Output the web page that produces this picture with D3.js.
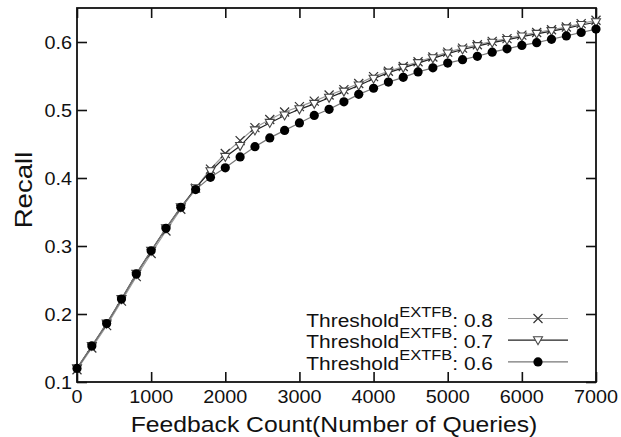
<!DOCTYPE html>
<html>
<head>
<meta charset="utf-8">
<script src="https://cdn.jsdelivr.net/npm/d3@7"></script>
<style>
  body { margin: 0; background: #fff; }
  svg { display: block; font-family: "Liberation Sans", Arial, sans-serif; }
</style>
</head>
<body>
<svg id="chart"></svg>
<script>
// feedback count, every 200 queries
const feedback = d3.range(0, 7001, 200)

// recall per threshold
const recall08 = [0.118, 0.150, 0.183, 0.219, 0.255, 0.289, 0.322, 0.354, 0.385, 0.413,
  0.436, 0.455, 0.474, 0.486, 0.497, 0.505, 0.513, 0.522, 0.530, 0.539,
  0.549, 0.557, 0.564, 0.571, 0.578, 0.585, 0.591, 0.596, 0.601, 0.605,
  0.610, 0.614, 0.618, 0.622, 0.627, 0.632]
const recall07 = [0.120, 0.153, 0.186, 0.222, 0.259, 0.293, 0.326, 0.357, 0.385, 0.410,
  0.431, 0.447, 0.470, 0.481, 0.492, 0.501, 0.509, 0.518, 0.527, 0.536,
  0.546, 0.555, 0.562, 0.569, 0.576, 0.583, 0.589, 0.594, 0.599, 0.603,
  0.608, 0.612, 0.616, 0.620, 0.625, 0.629]
const recall06 = [0.120, 0.153, 0.186, 0.222, 0.259, 0.293, 0.326, 0.357, 0.383, 0.401,
  0.415, 0.431, 0.446, 0.459, 0.470, 0.481, 0.492, 0.501, 0.512, 0.523,
  0.532, 0.541, 0.548, 0.556, 0.562, 0.569, 0.574, 0.579, 0.585, 0.590,
  0.595, 0.599, 0.604, 0.609, 0.614, 0.619]

const xTicks = [0, 1000, 2000, 3000, 4000, 5000, 6000, 7000]
const yTicks = [0.1, 0.2, 0.3, 0.4, 0.5, 0.6]
const legendValues = ["0.8", "0.7", "0.6"]

const W = 621, H = 437
// plot box edges (window.top is taken so use other names)
const plotL = 77, plotR = 596, plotT = 8, plotB = 382

const svg = d3.select('#chart')
    .attr('width', W)
    .attr('height', H)

const x = d3.scaleLinear().domain([0, 7000]).range([plotL, plotR])
const y = d3.scaleLinear().domain([0.1, 0.65]).range([plotB, plotT])

// the original font looks a bit wider than arial, so stretch text a little
function stretched(parent, px, py, sx, txt, size, anchor, rot) {
    return parent.append('text')
        .attr('transform', `translate(${px},${py})` + (rot ? ` rotate(${rot})` : '') + ` scale(${sx},1)`)
        .attr('font-size', size)
        .attr('text-anchor', anchor)
        .attr('fill', '#111')
        .text(txt)
}

// inward ticks on all four sides
const tickLen = 10
svg.append('g')
    .attr('transform', `translate(0,${plotB})`)
    .call(d3.axisBottom(x).tickValues(xTicks).tickSize(-tickLen).tickFormat(''))
svg.append('g')
    .attr('transform', `translate(0,${plotT})`)
    .call(d3.axisTop(x).tickValues(xTicks).tickSize(-tickLen).tickFormat(''))
svg.append('g')
    .attr('transform', `translate(${plotL},0)`)
    .call(d3.axisLeft(y).tickValues(yTicks).tickSize(-tickLen).tickFormat(''))
svg.append('g')
    .attr('transform', `translate(${plotR},0)`)
    .call(d3.axisRight(y).tickValues(yTicks).tickSize(-tickLen).tickFormat(''))

svg.selectAll('.domain').remove()
svg.selectAll('.tick line').attr('stroke', '#111').attr('stroke-width', 1.6)

// frame
svg.append('rect')
    .attr('x', plotL).attr('y', plotT)
    .attr('width', plotR - plotL).attr('height', plotB - plotT)
    .attr('fill', 'none')
    .attr('stroke', '#111')
    .attr('stroke-width', 1.8)

// tick labels
xTicks.forEach(t => stretched(svg, x(t), 403, 1.1, t, 18, 'middle'))
yTicks.forEach(t => stretched(svg, 72, y(t) + 6.5, 1.1, t.toFixed(1), 18, 'end'))

// axis titles
stretched(svg, 334, 431.5, 1.15, 'Feedback Count(Number of Queries)', 21.5, 'middle')
stretched(svg, 32, 190, 1.2, 'Recall', 23, 'middle', -90)

// series
const series = [
    {name: '0.8', values: recall08, line: '#9a9a9a', marker: 'cross'},
    {name: '0.7', values: recall07, line: '#222', marker: 'triangle'},
    {name: '0.6', values: recall06, line: '#777', marker: 'circle'}
]

const line = d3.line()
    .x((d, i) => x(feedback[i]))
    .y(d => y(d))

function drawMarker(g, kind, cx, cy) {
    if (kind === 'cross') {
        g.append('path')
            .attr('d', `M${cx - 4.5},${cy - 4.5}L${cx + 4.5},${cy + 4.5}M${cx - 4.5},${cy + 4.5}L${cx + 4.5},${cy - 4.5}`)
            .attr('stroke', '#333')
            .attr('stroke-width', 1.2)
            .attr('fill', 'none')
    } else if (kind === 'triangle') {
        g.append('path')
            .attr('d', `M${cx - 4.5},${cy - 3.5}L${cx + 4.5},${cy - 3.5}L${cx},${cy + 4.5}Z`)
            .attr('stroke', '#444')
            .attr('stroke-width', 1.1)
            .attr('fill', '#fff')
    } else {
        g.append('circle')
            .attr('cx', cx).attr('cy', cy)
            .attr('r', 4.6)
            .attr('fill', '#000')
    }
}

series.forEach(s => {
    const g = svg.append('g')
    g.append('path')
        .attr('d', line(s.values))
        .attr('fill', 'none')
        .attr('stroke', s.line)
        .attr('stroke-width', 1.2)
    s.values.forEach((v, i) => drawMarker(g, s.marker, x(feedback[i]), y(v)))
})

// legend
const legend = svg.append('g')
series.forEach((s, i) => {
    const by = 326.5 + i * 21.7
    const t = legend.append('text')
        .attr('transform', `translate(493,${by}) scale(1.1,1)`)
        .attr('font-size', 19)
        .attr('text-anchor', 'end')
        .attr('fill', '#111')
    t.append('tspan').text('Threshold')
    t.append('tspan').attr('font-size', 15).attr('dy', -10).text('EXTFB')
    t.append('tspan').attr('dy', 10).text(': ' + legendValues[i])

    legend.append('line')
        .attr('x1', 508).attr('x2', 568)
        .attr('y1', by - 8).attr('y2', by - 8)
        .attr('stroke', s.line)
        .attr('stroke-width', 1.2)
    drawMarker(legend, s.marker, 538, by - 8)
})
</script>
</body>
</html>
